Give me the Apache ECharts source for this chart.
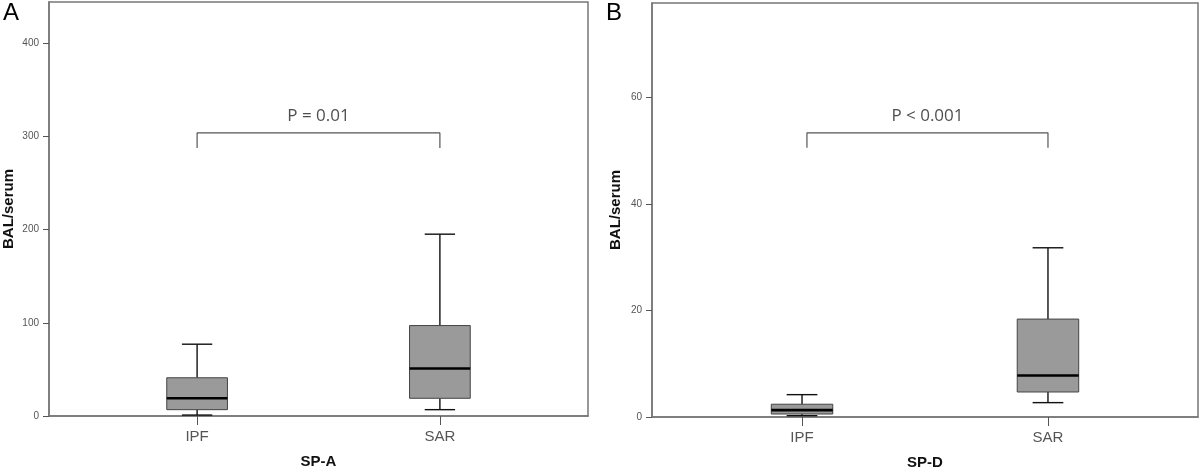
<!DOCTYPE html>
<html>
<head>
<meta charset="utf-8">
<script src="https://cdn.jsdelivr.net/npm/echarts@6/dist/echarts.min.js"></script>
<style>
  html, body { margin: 0; padding: 0; background: #fff; overflow: hidden; }
  #main { width: 1200px; height: 471px; }
</style>
</head>
<body>
<div id="main"></div>
<script>
// data
const categories = ['IPF', 'SAR']
// [min, Q1, median, Q3, max]
const spaBoxes = [[1, 6.8, 19, 41, 77], [6.8, 19, 51, 97, 195]]
const spdBoxes = [[0.25, 0.56, 1.3, 2.4, 4.2], [2.7, 4.7, 7.8, 18.4, 31.8]]
const spaTicks = [0, 100, 200, 300, 400]
const spdTicks = [0, 20, 40, 60]
// bracket [leg bottom, bar top]
const spaBracket = [287.5, 303.6]
const spdBracket = [50.6, 53.4]
const pLabels = ['P = 0.01', 'P < 0.001']
const panelNames = ['SP-A', 'SP-D']

const frame = '#777'
const myChart = echarts.init(document.getElementById('main'), null, { renderer: 'canvas' })

function renderBox (params, api) {
  const x = api.value(0)
  const lo = api.coord([x, api.value(1)])
  const q1 = api.coord([x, api.value(2)])
  const med = api.coord([x, api.value(3)])
  const q3 = api.coord([x, api.value(4)])
  const hi = api.coord([x, api.value(5)])
  const half = api.size([1, 0])[0] * 0.125
  const cap = half / 2
  const cx = lo[0]
  const lineSt = { stroke: '#111', lineWidth: 1.4 }
  return {
    type: 'group',
    children: [
      { type: 'line', shape: { x1: cx, y1: hi[1], x2: cx, y2: q3[1] }, style: lineSt },
      { type: 'line', shape: { x1: cx, y1: q1[1], x2: cx, y2: lo[1] }, style: lineSt },
      { type: 'line', shape: { x1: cx - cap, y1: hi[1], x2: cx + cap, y2: hi[1] }, style: lineSt },
      { type: 'line', shape: { x1: cx - cap, y1: lo[1], x2: cx + cap, y2: lo[1] }, style: lineSt },
      {
        type: 'rect',
        shape: { x: cx - half, y: q3[1], width: half * 2, height: q1[1] - q3[1] },
        style: { fill: '#9a9a9a', stroke: '#444', lineWidth: 1 }
      },
      { type: 'line', shape: { x1: cx - half, y1: med[1], x2: cx + half, y2: med[1] }, style: { stroke: '#000', lineWidth: 2.6 } }
    ]
  }
}

function xAxisFor (idx, name) {
  return {
    type: 'value',
    gridIndex: idx,
    min: -0.61,
    max: 1.61,
    name: name,
    nameLocation: 'middle',
    nameGap: 38,
    nameTextStyle: { fontFamily: 'Liberation Sans', fontSize: 15, fontWeight: 'bold', color: '#111' },
    axisLine: { onZero: false, lineStyle: { color: frame, width: 1.5 } },
    axisTick: { customValues: [0, 1], length: 9, lineStyle: { color: '#555' } },
    axisLabel: {
      customValues: [0, 1],
      formatter: v => categories[Math.round(v)],
      margin: 13,
      fontFamily: 'Liberation Sans',
      fontSize: 15,
      color: '#555'
    },
    splitLine: { show: false }
  }
}

function yAxisFor (idx, max, ticks, gap) {
  return {
    type: 'value',
    gridIndex: idx,
    min: 0,
    max: max,
    name: 'BAL/serum',
    nameLocation: 'middle',
    nameGap: gap,
    nameTextStyle: { fontFamily: 'Liberation Sans', fontSize: 15, fontWeight: 'bold', color: '#111' },
    axisLine: { show: true, onZero: false, lineStyle: { color: frame, width: 1.5 } },
    axisTick: { show: true, customValues: ticks, length: 6, lineStyle: { color: '#555' } },
    axisLabel: { customValues: ticks, margin: 10, fontFamily: 'Liberation Sans', fontSize: 10, color: '#555' },
    splitLine: { show: false }
  }
}

function bracketData (b, x0, x1) {
  return [[x0, b[0]], [x0, b[1]], [x1, b[1]], [x1, b[0]]]
}

myChart.setOption({
  animation: false,
  backgroundColor: '#fff',
  grid: [
    { left: 49, top: 2, right: 612, bottom: 55, outerBoundsMode: 'none', show: true, borderColor: frame, borderWidth: 1.5 },
    { left: 652, top: 3, right: 2, bottom: 54, outerBoundsMode: 'none', show: true, borderColor: frame, borderWidth: 1.5 }
  ],
  graphic: [
    { type: 'text', left: 3, top: 1, style: { text: 'A', font: '24px "Liberation Sans"', fill: '#000' } },
    { type: 'text', left: 606, top: 1, style: { text: 'B', font: '24px "Liberation Sans"', fill: '#000' } }
  ],
  xAxis: [xAxisFor(0, panelNames[0]), xAxisFor(1, panelNames[1])],
  yAxis: [yAxisFor(0, 444, spaTicks, 33), yAxisFor(1, 77.8, spdTicks, 29)],
  series: [
    {
      type: 'custom',
      xAxisIndex: 0,
      yAxisIndex: 0,
      renderItem: renderBox,
      data: spaBoxes.map((b, i) => [i].concat(b))
    },
    {
      type: 'custom',
      xAxisIndex: 1,
      yAxisIndex: 1,
      renderItem: renderBox,
      data: spdBoxes.map((b, i) => [i].concat(b))
    },
    {
      type: 'line',
      xAxisIndex: 0,
      yAxisIndex: 0,
      symbol: 'none',
      lineStyle: { color: '#555', width: 1.2 },
      data: bracketData(spaBracket, 0, 1)
    },
    {
      type: 'line',
      xAxisIndex: 1,
      yAxisIndex: 1,
      symbol: 'none',
      lineStyle: { color: '#555', width: 1.2 },
      data: bracketData(spdBracket, 0.02, 1)
    },
    // p-value labels above the brackets
    {
      type: 'scatter',
      xAxisIndex: 0,
      yAxisIndex: 0,
      symbolSize: 0,
      data: [[0.5, spaBracket[1]]],
      label: { show: true, position: 'top', distance: 8, formatter: pLabels[0], fontFamily: 'Open Sans', fontSize: 17, color: '#222' }
    },
    {
      type: 'scatter',
      xAxisIndex: 1,
      yAxisIndex: 1,
      symbolSize: 0,
      data: [[0.51, spdBracket[1]]],
      label: { show: true, position: 'top', distance: 8, formatter: pLabels[1], fontFamily: 'Open Sans', fontSize: 17, color: '#222' }
    }
  ]
})
</script>
</body>
</html>
